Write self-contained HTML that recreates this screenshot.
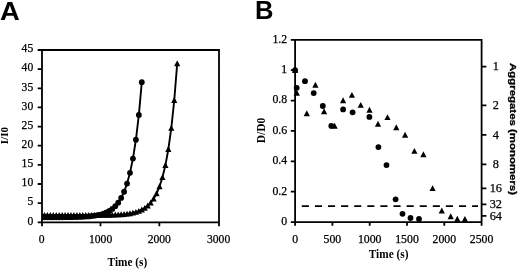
<!DOCTYPE html>
<html><head><meta charset="utf-8"><title>Figure</title>
<style>html,body{margin:0;padding:0;background:#fff;}body{width:520px;height:269px;overflow:hidden;}svg{display:block;}</style>
</head><body>
<svg width="520" height="269" viewBox="0 0 520 269">
<rect width="520" height="269" fill="#fff"/>
<text transform="translate(0.0,19.8) scale(1.07,1)" font-family="Liberation Sans, Arial, sans-serif" font-weight="bold" font-size="25.6">A</text>
<text x="254.9" y="19.1" font-family="Liberation Sans, Arial, sans-serif" font-weight="bold" font-size="25.6">B</text>
<path d="M37.70,50.00H219.00V226.30M42.00,50.00V226.30M37.70,222.30H219.00M37.70,222.30H42.00M37.70,203.16H42.00M37.70,184.01H42.00M37.70,164.87H42.00M37.70,145.72H42.00M37.70,126.58H42.00M37.70,107.43H42.00M37.70,88.29H42.00M37.70,69.14H42.00M37.70,50.00H42.00M42.00,222.30V226.30M100.50,222.30V226.30M159.35,222.30V226.30M219.00,222.30V226.30" fill="none" stroke="#000" stroke-width="1.8"/>
<clipPath id="cpA"><rect x="42.00" y="50.00" width="177.00" height="172.30"/></clipPath>
<g clip-path="url(#cpA)">
<polyline points="41.50,217.29 44.45,217.29 47.40,217.28 50.35,217.28 53.30,217.27 56.25,217.26 59.20,217.24 62.15,217.23 65.10,217.20 68.05,217.17 71.00,217.13 73.95,217.07 76.90,217.00 79.85,216.90 82.80,216.78 85.75,216.61 88.70,216.39 91.65,216.10 94.60,215.71 97.55,215.20 100.50,214.53 103.45,213.65 106.40,212.48 109.35,210.93 112.30,208.89 115.25,206.20 118.20,202.65 121.15,197.96 124.10,191.77 127.05,183.60 130.00,172.81 132.95,158.57 135.90,139.77 138.85,114.96 141.80,82.20" fill="none" stroke="#000" stroke-width="1.9" stroke-linejoin="round"/>
<polyline points="41.50,215.30 44.45,215.30 47.40,215.30 50.35,215.30 53.30,215.30 56.25,215.30 59.20,215.30 62.15,215.30 65.10,215.30 68.05,215.29 71.00,215.29 73.95,215.29 76.90,215.29 79.85,215.28 82.80,215.28 85.75,215.27 88.70,215.26 91.65,215.25 94.60,215.24 97.55,215.22 100.50,215.19 103.45,215.15 106.40,215.10 109.35,215.04 112.30,214.96 115.25,214.85 118.20,214.71 121.15,214.52 124.10,214.27 127.05,213.94 130.00,213.51 132.95,212.93 135.90,212.17 138.85,211.18 141.80,209.86 144.75,208.12 147.70,205.82 150.65,202.79 153.60,198.79 156.55,193.52 159.50,186.55 162.45,177.37 165.40,165.24 168.35,149.24 171.30,128.13 174.25,100.27 177.20,63.50" fill="none" stroke="#000" stroke-width="1.9" stroke-linejoin="round"/>
<g fill="#000"><circle cx="41.50" cy="217.29" r="2.9"/><circle cx="44.45" cy="217.29" r="2.9"/><circle cx="47.40" cy="217.28" r="2.9"/><circle cx="50.35" cy="217.28" r="2.9"/><circle cx="53.30" cy="217.27" r="2.9"/><circle cx="56.25" cy="217.26" r="2.9"/><circle cx="59.20" cy="217.24" r="2.9"/><circle cx="62.15" cy="217.23" r="2.9"/><circle cx="65.10" cy="217.20" r="2.9"/><circle cx="68.05" cy="217.17" r="2.9"/><circle cx="71.00" cy="217.13" r="2.9"/><circle cx="73.95" cy="217.07" r="2.9"/><circle cx="76.90" cy="217.00" r="2.9"/><circle cx="79.85" cy="216.90" r="2.9"/><circle cx="82.80" cy="216.78" r="2.9"/><circle cx="85.75" cy="216.61" r="2.9"/><circle cx="88.70" cy="216.39" r="2.9"/><circle cx="91.65" cy="216.10" r="2.9"/><circle cx="94.60" cy="215.71" r="2.9"/><circle cx="97.55" cy="215.20" r="2.9"/><circle cx="100.50" cy="214.53" r="2.9"/><circle cx="103.45" cy="213.65" r="2.9"/><circle cx="106.40" cy="212.48" r="2.9"/><circle cx="109.35" cy="210.93" r="2.9"/><circle cx="112.30" cy="208.89" r="2.9"/><circle cx="115.25" cy="206.20" r="2.9"/><circle cx="118.20" cy="202.65" r="2.9"/><circle cx="121.15" cy="197.96" r="2.9"/><circle cx="124.10" cy="191.77" r="2.9"/><circle cx="127.05" cy="183.60" r="2.9"/><circle cx="130.00" cy="172.81" r="2.9"/><circle cx="132.95" cy="158.57" r="2.9"/><circle cx="135.90" cy="139.77" r="2.9"/><circle cx="138.85" cy="114.96" r="2.9"/><circle cx="141.80" cy="82.20" r="2.9"/></g>
<g fill="#000"><polygon points="41.50,212.06 44.60,217.95 38.40,217.95"/><polygon points="44.45,212.06 47.55,217.95 41.35,217.95"/><polygon points="47.40,212.06 50.50,217.95 44.30,217.95"/><polygon points="50.35,212.06 53.45,217.95 47.25,217.95"/><polygon points="53.30,212.06 56.40,217.95 50.20,217.95"/><polygon points="56.25,212.06 59.35,217.95 53.15,217.95"/><polygon points="59.20,212.06 62.30,217.95 56.10,217.95"/><polygon points="62.15,212.06 65.25,217.95 59.05,217.95"/><polygon points="65.10,212.06 68.20,217.95 62.00,217.95"/><polygon points="68.05,212.06 71.15,217.95 64.95,217.95"/><polygon points="71.00,212.05 74.10,217.94 67.90,217.94"/><polygon points="73.95,212.05 77.05,217.94 70.85,217.94"/><polygon points="76.90,212.05 80.00,217.94 73.80,217.94"/><polygon points="79.85,212.04 82.95,217.93 76.75,217.93"/><polygon points="82.80,212.04 85.90,217.93 79.70,217.93"/><polygon points="85.75,212.03 88.85,217.92 82.65,217.92"/><polygon points="88.70,212.02 91.80,217.91 85.60,217.91"/><polygon points="91.65,212.01 94.75,217.90 88.55,217.90"/><polygon points="94.60,212.00 97.70,217.89 91.50,217.89"/><polygon points="97.55,211.98 100.65,217.87 94.45,217.87"/><polygon points="100.50,211.95 103.60,217.84 97.40,217.84"/><polygon points="103.45,211.91 106.55,217.80 100.35,217.80"/><polygon points="106.40,211.87 109.50,217.76 103.30,217.76"/><polygon points="109.35,211.80 112.45,217.69 106.25,217.69"/><polygon points="112.30,211.72 115.40,217.61 109.20,217.61"/><polygon points="115.25,211.61 118.35,217.50 112.15,217.50"/><polygon points="118.20,211.47 121.30,217.36 115.10,217.36"/><polygon points="121.15,211.28 124.25,217.17 118.05,217.17"/><polygon points="124.10,211.03 127.20,216.92 121.00,216.92"/><polygon points="127.05,210.70 130.15,216.59 123.95,216.59"/><polygon points="130.00,210.27 133.10,216.16 126.90,216.16"/><polygon points="132.95,209.69 136.05,215.58 129.85,215.58"/><polygon points="135.90,208.93 139.00,214.82 132.80,214.82"/><polygon points="138.85,207.94 141.95,213.83 135.75,213.83"/><polygon points="141.80,206.62 144.90,212.51 138.70,212.51"/><polygon points="144.75,204.88 147.85,210.77 141.65,210.77"/><polygon points="147.70,202.58 150.80,208.47 144.60,208.47"/><polygon points="150.65,199.55 153.75,205.44 147.55,205.44"/><polygon points="153.60,195.55 156.70,201.44 150.50,201.44"/><polygon points="156.55,190.28 159.65,196.17 153.45,196.17"/><polygon points="159.50,183.32 162.60,189.21 156.40,189.21"/><polygon points="162.45,174.13 165.55,180.02 159.35,180.02"/><polygon points="165.40,162.00 168.50,167.89 162.30,167.89"/><polygon points="168.35,146.00 171.45,151.89 165.25,151.89"/><polygon points="171.30,124.89 174.40,130.78 168.20,130.78"/><polygon points="174.25,97.03 177.35,102.92 171.15,102.92"/><polygon points="177.20,60.26 180.30,66.15 174.10,66.15"/></g>
</g>
<g font-family="Liberation Serif, Times New Roman, serif" font-size="11.6" fill="#000" stroke="#000" stroke-width="0.25">
<text x="33.2" y="224.60" text-anchor="end">0</text>
<text x="33.2" y="205.46" text-anchor="end">5</text>
<text x="33.2" y="186.31" text-anchor="end">10</text>
<text x="33.2" y="167.17" text-anchor="end">15</text>
<text x="33.2" y="148.02" text-anchor="end">20</text>
<text x="33.2" y="128.88" text-anchor="end">25</text>
<text x="33.2" y="109.73" text-anchor="end">30</text>
<text x="33.2" y="90.59" text-anchor="end">35</text>
<text x="33.2" y="71.44" text-anchor="end">40</text>
<text x="33.2" y="52.30" text-anchor="end">45</text>
<text x="41.70" y="243.20" text-anchor="middle">0</text>
<text x="100.60" y="243.20" text-anchor="middle">1000</text>
<text x="159.30" y="243.20" text-anchor="middle">2000</text>
<text x="218.60" y="243.20" text-anchor="middle">3000</text>
</g>
<text x="127.4" y="265.6" text-anchor="middle" font-family="Liberation Serif, Times New Roman, serif" font-weight="bold" font-size="11.8" textLength="39.6" lengthAdjust="spacingAndGlyphs">Time (s)</text>
<text transform="translate(8.1,135.6) rotate(-90)" text-anchor="middle" font-family="Liberation Serif, Times New Roman, serif" font-weight="bold" font-size="11">I/I0</text>
<path d="M290.80,39.80H481.60V225.80M295.10,39.80V225.80M290.80,222.10H481.60M290.80,222.10H295.10M290.80,191.72H295.10M290.80,161.33H295.10M290.80,130.95H295.10M290.80,100.57H295.10M290.80,70.18H295.10M290.80,39.80H295.10M295.10,222.10V225.80M332.40,222.10V225.80M369.70,222.10V225.80M407.00,222.10V225.80M444.30,222.10V225.80M481.60,222.10V225.80M481.60,66.70H486.40M481.60,105.40H486.40M481.60,134.90H486.40M481.60,164.40H486.40M481.60,188.30H486.40M481.60,204.40H486.40M481.60,215.90H486.40" fill="none" stroke="#000" stroke-width="1.8"/>
<path d="M301.8,206.2H478.0" fill="none" stroke="#000" stroke-width="1.8" stroke-dasharray="7.1 6.0"/>
<g fill="#000"><circle cx="295.10" cy="70.20" r="2.9"/><circle cx="305.00" cy="81.20" r="2.9"/><circle cx="296.70" cy="87.80" r="2.9"/><circle cx="313.70" cy="93.10" r="2.9"/><circle cx="322.80" cy="106.00" r="2.9"/><circle cx="331.30" cy="125.90" r="2.9"/><circle cx="343.10" cy="109.40" r="2.9"/><circle cx="352.60" cy="112.30" r="2.9"/><circle cx="369.40" cy="116.90" r="2.9"/><circle cx="378.40" cy="147.10" r="2.9"/><circle cx="386.50" cy="165.10" r="2.9"/><circle cx="395.60" cy="199.30" r="2.9"/><circle cx="402.50" cy="213.80" r="2.9"/><circle cx="410.50" cy="218.00" r="2.9"/><circle cx="419.00" cy="219.00" r="2.9"/></g>
<g fill="#000"><polygon points="295.10,67.16 298.20,73.05 292.00,73.05"/><polygon points="296.80,89.76 299.90,95.65 293.70,95.65"/><polygon points="315.40,81.86 318.50,87.75 312.30,87.75"/><polygon points="306.80,110.26 309.90,116.15 303.70,116.15"/><polygon points="324.10,108.36 327.20,114.25 321.00,114.25"/><polygon points="334.60,122.76 337.70,128.65 331.50,128.65"/><polygon points="343.10,97.36 346.20,103.25 340.00,103.25"/><polygon points="351.90,91.96 355.00,97.85 348.80,97.85"/><polygon points="360.70,101.96 363.80,107.85 357.60,107.85"/><polygon points="369.50,106.76 372.60,112.65 366.40,112.65"/><polygon points="378.00,120.76 381.10,126.65 374.90,126.65"/><polygon points="387.50,114.16 390.60,120.05 384.40,120.05"/><polygon points="396.30,124.26 399.40,130.15 393.20,130.15"/><polygon points="405.10,131.86 408.20,137.75 402.00,137.75"/><polygon points="414.40,147.96 417.50,153.85 411.30,153.85"/><polygon points="423.40,151.36 426.50,157.25 420.30,157.25"/><polygon points="432.60,185.16 435.70,191.05 429.50,191.05"/><polygon points="441.80,207.56 444.90,213.45 438.70,213.45"/><polygon points="450.70,213.26 453.80,219.15 447.60,219.15"/><polygon points="457.30,215.76 460.40,221.65 454.20,221.65"/><polygon points="464.90,215.96 468.00,221.85 461.80,221.85"/></g>
<g font-family="Liberation Serif, Times New Roman, serif" font-size="11.8" fill="#000" stroke="#000" stroke-width="0.25">
<text x="287.2" y="225.00" text-anchor="end">0</text>
<text x="287.2" y="194.62" text-anchor="end">0.2</text>
<text x="287.2" y="164.23" text-anchor="end">0.4</text>
<text x="287.2" y="133.85" text-anchor="end">0.6</text>
<text x="287.2" y="103.47" text-anchor="end">0.8</text>
<text x="287.2" y="73.08" text-anchor="end">1</text>
<text x="287.2" y="42.70" text-anchor="end">1.2</text>
<text x="295.10" y="243.20" text-anchor="middle">0</text>
<text x="332.40" y="243.20" text-anchor="middle">500</text>
<text x="369.70" y="243.20" text-anchor="middle">1000</text>
<text x="407.00" y="243.20" text-anchor="middle">1500</text>
<text x="444.30" y="243.20" text-anchor="middle">2000</text>
<text x="481.60" y="243.20" text-anchor="middle">2500</text>
</g>
<g font-family="Liberation Serif, Times New Roman, serif" font-size="12.3" fill="#000" stroke="#000" stroke-width="0.25">
<text x="495.8" y="70.30" text-anchor="middle">1</text>
<text x="495.8" y="109.00" text-anchor="middle">2</text>
<text x="495.8" y="138.50" text-anchor="middle">4</text>
<text x="495.8" y="168.00" text-anchor="middle">8</text>
<text x="495.8" y="191.90" text-anchor="middle">16</text>
<text x="495.8" y="208.00" text-anchor="middle">32</text>
<text x="495.8" y="219.50" text-anchor="middle">64</text>
</g>
<text x="388.6" y="257.5" text-anchor="middle" font-family="Liberation Serif, Times New Roman, serif" font-weight="bold" font-size="11.8" textLength="39.6" lengthAdjust="spacingAndGlyphs">Time (s)</text>
<text transform="translate(265.3,130.5) rotate(-90)" text-anchor="middle" font-family="Liberation Serif, Times New Roman, serif" font-weight="bold" font-size="11.5">D/D0</text>
<text transform="translate(509.7,129.0) rotate(90)" text-anchor="middle" font-family="Liberation Sans, Arial, sans-serif" font-weight="bold" font-size="9.7" textLength="132" lengthAdjust="spacingAndGlyphs" stroke="#000" stroke-width="0.3">Aggregates (monomers)</text>
</svg>
</body></html>
